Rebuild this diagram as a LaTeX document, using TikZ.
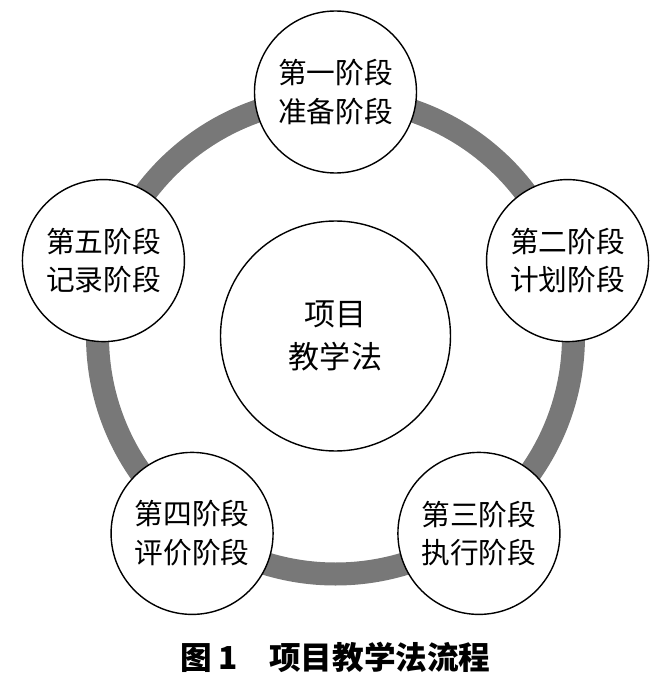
\documentclass[tikz,border=0pt]{standalone}
\usepackage{fontspec}
\newfontfamily\cjk{Noto Sans CJK SC}
\definecolor{ringgray}{gray}{0.47}
\begin{document}
\begin{tikzpicture}[x=1cm, y=1cm,
    stage/.style={circle, draw=black, line width=1.2pt, fill=white,
      minimum size=4.86cm, inner sep=0pt, align=center,
      font=\cjk\fontsize{24.5}{33}\selectfont},
    hub/.style={circle, draw=black, line width=1.2pt, fill=white,
      minimum size=6.9cm, inner sep=0pt, align=center,
      font=\cjk\fontsize{26.5}{36}\selectfont},
    caption/.style={inner sep=0pt, font=\cjk\bfseries\fontsize{27}{30}\selectfont}]
  \def\ringr{7.14}
  \def\stager{7.32}
  \useasboundingbox (-10.065,-10.38) rectangle (9.765,10.08);

  % Ring
  \draw[line width=0.69cm, ringgray] (0,0) circle (\ringr);

  % Hub
  \node[hub] (hub) at (0,0) {项目\\教学法};

  % Stages
  \node[stage] (s1) at (90:\stager)   {第一阶段\\准备阶段};
  \node[stage] (s2) at (18:\stager)   {第二阶段\\计划阶段};
  \node[stage] (s3) at (-54:\stager)  {第三阶段\\执行阶段};
  \node[stage] (s4) at (-126:\stager) {第四阶段\\评价阶段};
  \node[stage] (s5) at (162:\stager)  {第五阶段\\记录阶段};

  \node[caption] (cap) at (0,-9.63) {图\hspace{0.2em}1\hspace{1em}项目教学法流程};
\end{tikzpicture}
\end{document}
